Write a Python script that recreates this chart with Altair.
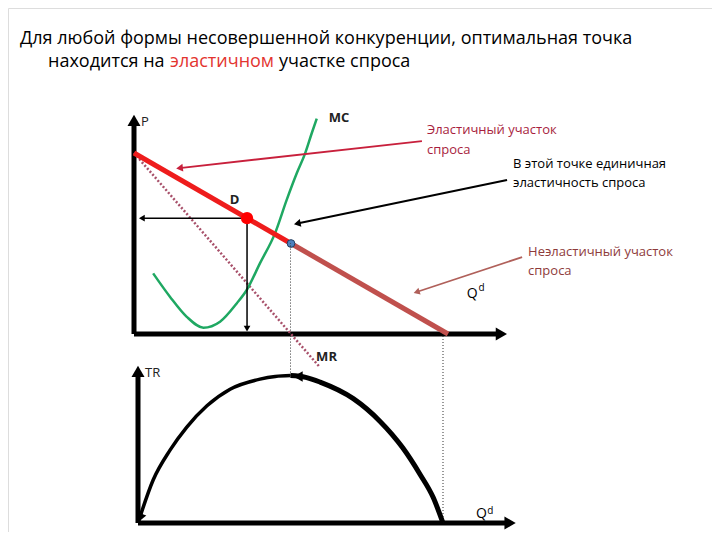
import altair as alt
import pandas as pd

# ---------------- data (diagram units) ----------------
# upper panel: price P vs quantity Q
demand_el_q = [0, 5]
demand_el_p = [10, 5]
demand_inel_q = [5, 10]
demand_inel_p = [5, 0]
mr_q = [0, 5.9]
mr_p = [10, -1.8]
mc_q = [0.61, 1.15, 1.68, 2.21, 2.74, 3.27, 3.59, 4.01, 4.49, 4.86, 5.18, 5.45, 5.66, 5.82]
mc_p = [3.35, 2.05, 0.95, 0.35, 0.68, 1.69, 2.43, 3.9, 5.56, 7.4, 8.87, 9.98, 11.09, 11.9]
opt_q, opt_p = 3.6, 6.4
unit_q, unit_p = 5.0, 5.0
p_axis_top = 11.8
q_axis_end = 11.7

# annotation arrows (start -> end)
red_arrow_q = [9.17, 1.45]
red_arrow_p = [10.66, 9.17]
black_arrow_q = [11.88, 5.2]
black_arrow_p = [8.51, 6.1]
brown_arrow_q = [12.36, 9.0]
brown_arrow_p = [4.25, 2.32]

# lower panel: total revenue TR vs Q
tr_left_q = [0, 0.5, 1.05, 1.6, 2.26, 3.02, 4.0, 4.5, 5.0]
tr_left_v = [0, 7.3, 12.3, 16.2, 19.8, 22.6, 24.3, 24.75, 24.9]
tr_right_q = [5.0, 5.5, 5.97, 7.06, 7.93, 8.68, 9.25, 9.68, 10.0]
tr_right_v = [24.9, 24.6, 23.8, 21.0, 17.2, 12.7, 8.2, 4.3, 0]
tr_axis_top = 25.6
tr_q_axis_end = 12.2
guide_left_q = [5.0, 5.0]
guide_left_v = [24.9, 47.3]
guide_right_q = [10.0, 10.0]
guide_right_v = [0, 31.9]

title_line1 = "Для любой формы несовершенной конкуренции, оптимальная точка"
title_line2 = ["находится на", "эластичном", "участке спроса"]

FONT = "Open Sans"

XU = alt.Scale(domain=[0, 10], range=[126, 440], nice=False, zero=False)
YU = alt.Scale(domain=[0, 10], range=[326, 145], nice=False, zero=False)
XL = alt.Scale(domain=[0, 10], range=[130, 435], nice=False, zero=False)
YL = alt.Scale(domain=[0, 25], range=[515, 367], nice=False, zero=False)


def enc(chart, xs, ys):
    return chart.encode(
        x=alt.X("q:Q", scale=xs, axis=None),
        y=alt.Y("v:Q", scale=ys, axis=None),
    )


def line(q, v, xs, ys, **kw):
    df = pd.DataFrame({"q": q, "v": v, "o": list(range(len(q)))})
    return enc(alt.Chart(df).mark_line(**kw), xs, ys).encode(order="o:Q")


def point(q, v, xs, ys, **kw):
    df = pd.DataFrame({"q": [q], "v": [v]})
    return enc(alt.Chart(df).mark_point(**kw), xs, ys)


def text(q, v, t, xs, ys, **kw):
    df = pd.DataFrame({"q": [q], "v": [v], "t": [t]})
    kw.setdefault("font", FONT)
    kw.setdefault("align", "left")
    kw.setdefault("baseline", "middle")
    return enc(alt.Chart(df).mark_text(**kw), xs, ys).encode(text="t:N")


def head(q, v, xs, ys, angle, color, size=90):
    return point(q, v, xs, ys, shape="triangle-up", angle=angle, filled=True,
                 color=color, size=size, opacity=1, strokeWidth=0)


U = (XU, YU)
L = (XL, YL)

upper = alt.layer(
    # axes
    line([0, 0], [0, p_axis_top], *U, color="black", strokeWidth=5),
    head(0, p_axis_top, *U, angle=0, color="black", size=170),
    line([0, q_axis_end], [0, 0], *U, color="black", strokeWidth=5),
    head(q_axis_end, 0, *U, angle=90, color="black", size=170),
    # MR
    line(mr_q, mr_p, *U, color="#a8506a", strokeWidth=2.5, strokeDash=[2, 2]),
    # MC
    line(mc_q, mc_p, *U, color="#1fa862", strokeWidth=2.5, interpolate="monotone"),
    # demand
    line(demand_inel_q, demand_inel_p, *U, color="#c0504d", strokeWidth=5),
    line(demand_el_q, demand_el_p, *U, color="#ee1c1c", strokeWidth=5),
    # projections of optimum
    line([opt_q, 0.25], [opt_p, opt_p], *U, color="black", strokeWidth=1.5),
    head(0.25, opt_p, *U, angle=270, color="black", size=45),
    line([opt_q, opt_q], [opt_p, 0.3], *U, color="black", strokeWidth=1.5),
    head(opt_q, 0.3, *U, angle=180, color="black", size=45),
    point(opt_q, opt_p, *U, shape="circle", filled=True, color="#ff0000", size=150, opacity=1),
    point(unit_q, unit_p, *U, shape="circle", filled=True, fill="#4f81bd", stroke="#243f60",
          strokeWidth=1, size=60, opacity=1),
    # annotation arrows
    line(red_arrow_q, red_arrow_p, *U, color="#c8203c", strokeWidth=1.8),
    head(red_arrow_q[1], red_arrow_p[1], *U, angle=263.7, color="#c8203c", size=60),
    line(black_arrow_q, black_arrow_p, *U, color="black", strokeWidth=2),
    head(black_arrow_q[1], black_arrow_p[1], *U, angle=258.3, color="black", size=60),
    line(brown_arrow_q, brown_arrow_p, *U, color="#b0605a", strokeWidth=1.8),
    head(brown_arrow_q[1], brown_arrow_p[1], *U, angle=251.9, color="#b0605a", size=50),
    # labels
    text(0.22, 11.7, "P", *U, fontSize=13, color="#222"),
    text(6.2, 11.93, "MC", *U, fontSize=13, fontWeight="bold", color="#222"),
    text(3.05, 7.4, "D", *U, fontSize=13, fontWeight="bold", color="#222"),
    text(9.33, 11.25, "Эластичный участок", *U, fontSize=13, color="#a81e3e"),
    text(9.33, 10.15, "спроса", *U, fontSize=13, color="#a81e3e"),
    text(12.07, 9.4, "В этой точке единичная", *U, fontSize=13, color="black"),
    text(12.07, 8.35, "эластичность спроса", *U, fontSize=13, color="black"),
    text(12.55, 4.55, "Неэластичный участок", *U, fontSize=13, color="#8e3b3b"),
    text(12.55, 3.5, "спроса", *U, fontSize=13, color="#8e3b3b"),
    text(10.6, 2.2, "Q", *U, fontSize=14, color="black"),
    text(10.97, 2.55, "d", *U, fontSize=10, color="black"),
    text(5.8, -1.27, "MR", *U, fontSize=13, fontWeight="bold", color="#222"),
)

lower = alt.layer(
    line([0, 0], [0, tr_axis_top], *L, color="black", strokeWidth=5),
    head(0, tr_axis_top, *L, angle=0, color="black", size=170),
    line([0, tr_q_axis_end], [0, 0], *L, color="black", strokeWidth=5),
    head(tr_q_axis_end, 0, *L, angle=90, color="black", size=170),
    line(guide_left_q, guide_left_v, *L, color="#333", strokeWidth=1, strokeDash=[1, 2]),
    line(guide_right_q, guide_right_v, *L, color="#333", strokeWidth=1, strokeDash=[1, 2]),
    line(tr_left_q, tr_left_v, *L, color="black", strokeWidth=3.5, interpolate="monotone"),
    line(tr_right_q, tr_right_v, *L, color="black", strokeWidth=5, interpolate="monotone"),
    head(5.25, 24.75, *L, angle=270, color="black", size=110),
    head(0.08, 0.9, *L, angle=200, color="black", size=90),
    text(0.23, 25.3, "TR", *L, fontSize=13, color="#222"),
    text(11.08, 1.5, "Q", *L, fontSize=14, color="black"),
    text(11.45, 2.1, "d", *L, fontSize=10, color="black"),
)

t1 = alt.Chart(pd.DataFrame({"t": [title_line1]})).mark_text(
    font=FONT, fontSize=18, align="left", baseline="alphabetic", color="black"
).encode(text="t:N", x=alt.value(12), y=alt.value(36))
t2a = alt.Chart(pd.DataFrame({"t": [title_line2[0]]})).mark_text(
    font=FONT, fontSize=18, align="left", baseline="alphabetic", color="black"
).encode(text="t:N", x=alt.value(40), y=alt.value(59))
t2b = alt.Chart(pd.DataFrame({"t": [title_line2[1]]})).mark_text(
    font=FONT, fontSize=18, align="left", baseline="alphabetic", color="#e3342f"
).encode(text="t:N", x=alt.value(162), y=alt.value(59))
t2c = alt.Chart(pd.DataFrame({"t": [title_line2[2]]})).mark_text(
    font=FONT, fontSize=18, align="left", baseline="alphabetic", color="black"
).encode(text="t:N", x=alt.value(271), y=alt.value(59))

chart = alt.layer(upper, lower, t1, t2a, t2b, t2c).resolve_scale(
    x="independent", y="independent"
).properties(
    width=704, height=524, padding=0, autosize="none"
).configure_view(stroke=None).configure(background="white")

chart.save("out.html", embed_options={"renderer": "svg", "actions": False})
